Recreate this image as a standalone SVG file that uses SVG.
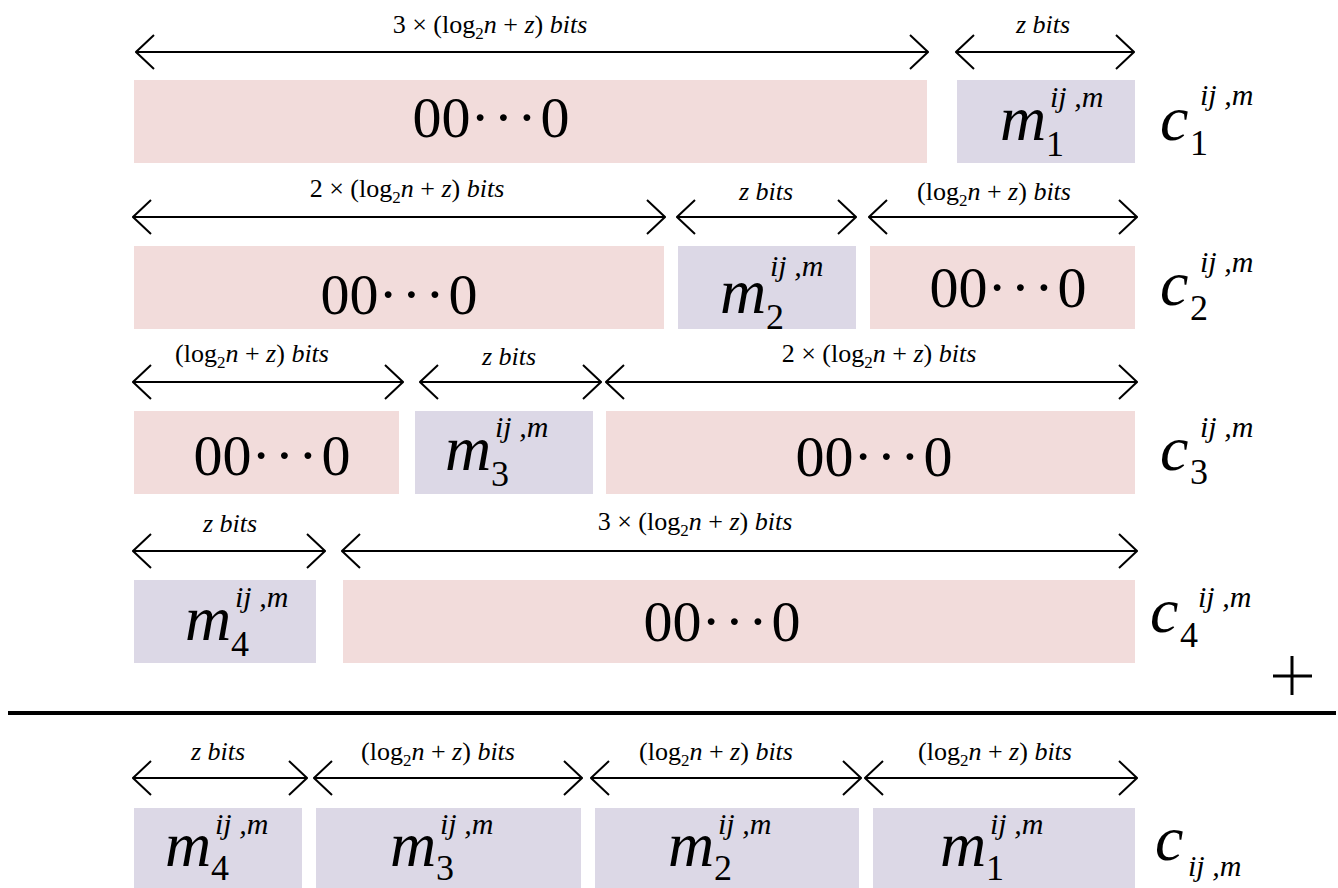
<svg xmlns="http://www.w3.org/2000/svg" width="1338" height="888" viewBox="0 0 1338 888" font-family="'Liberation Serif','DejaVu Serif',serif">
<style>
text{font-family:'Liberation Serif','DejaVu Serif',serif;fill:#000}
.pk{fill:#f2dcdb}
.pu{fill:#dcd8e6}
.lbl{font-size:26px;text-anchor:middle}
.i{font-style:italic}
.s{font-size:17px}
.big{font-size:58px;text-anchor:middle}
.dt{letter-spacing:4px}
.m{font-size:64px;font-style:italic}
.sub{font-size:36px}
.sup{font-size:30px;font-style:italic}
.arr{stroke:#000;stroke-width:2;fill:none;marker-start:url(#ah);marker-end:url(#ah)}
</style>
<defs>
<marker id="ah" viewBox="0 0 20 36" refX="19" refY="18" markerWidth="20" markerHeight="36" markerUnits="userSpaceOnUse" orient="auto-start-reverse">
<path d="M1,1 L19,18 L1,35" fill="none" stroke="#000" stroke-width="2"/>
</marker>
</defs>
<rect width="1338" height="888" fill="#fff"/>

<g id="connectors">
<line class="arr" x1="136" y1="52" x2="928" y2="52"/>
<line class="arr" x1="956" y1="52" x2="1134" y2="52"/>
<line class="arr" x1="133" y1="217" x2="665" y2="217"/>
<line class="arr" x1="677" y1="217" x2="856" y2="217"/>
<line class="arr" x1="869" y1="217" x2="1137" y2="217"/>
<line class="arr" x1="133" y1="382" x2="403" y2="382"/>
<line class="arr" x1="420" y1="382" x2="601" y2="382"/>
<line class="arr" x1="606" y1="382" x2="1137" y2="382"/>
<line class="arr" x1="133" y1="551" x2="325" y2="551"/>
<line class="arr" x1="342" y1="551" x2="1137" y2="551"/>
<line class="arr" x1="133" y1="778" x2="307" y2="778"/>
<line class="arr" x1="314" y1="778" x2="582" y2="778"/>
<line class="arr" x1="591" y1="778" x2="861" y2="778"/>
<line class="arr" x1="865" y1="778" x2="1137" y2="778"/>
</g>

<g id="labels">
<text class="lbl" x="490" y="33">3 × (log<tspan class="s" dy="6">2</tspan><tspan class="i" dy="-6">n</tspan> + <tspan class="i">z</tspan>) <tspan class="i">bits</tspan></text>
<text class="lbl i" x="1043" y="33">z bits</text>
<text class="lbl" x="407" y="197">2 × (log<tspan class="s" dy="6">2</tspan><tspan class="i" dy="-6">n</tspan> + <tspan class="i">z</tspan>) <tspan class="i">bits</tspan></text>
<text class="lbl i" x="766" y="200">z bits</text>
<text class="lbl" x="994" y="200">(log<tspan class="s" dy="6">2</tspan><tspan class="i" dy="-6">n</tspan> + <tspan class="i">z</tspan>) <tspan class="i">bits</tspan></text>
<text class="lbl" x="252" y="362">(log<tspan class="s" dy="6">2</tspan><tspan class="i" dy="-6">n</tspan> + <tspan class="i">z</tspan>) <tspan class="i">bits</tspan></text>
<text class="lbl i" x="509" y="365">z bits</text>
<text class="lbl" x="879" y="362">2 × (log<tspan class="s" dy="6">2</tspan><tspan class="i" dy="-6">n</tspan> + <tspan class="i">z</tspan>) <tspan class="i">bits</tspan></text>
<text class="lbl i" x="230" y="532">z bits</text>
<text class="lbl" x="695" y="530">3 × (log<tspan class="s" dy="6">2</tspan><tspan class="i" dy="-6">n</tspan> + <tspan class="i">z</tspan>) <tspan class="i">bits</tspan></text>
<text class="lbl i" x="218" y="760">z bits</text>
<text class="lbl" x="438" y="760">(log<tspan class="s" dy="6">2</tspan><tspan class="i" dy="-6">n</tspan> + <tspan class="i">z</tspan>) <tspan class="i">bits</tspan></text>
<text class="lbl" x="716" y="760">(log<tspan class="s" dy="6">2</tspan><tspan class="i" dy="-6">n</tspan> + <tspan class="i">z</tspan>) <tspan class="i">bits</tspan></text>
<text class="lbl" x="995" y="760">(log<tspan class="s" dy="6">2</tspan><tspan class="i" dy="-6">n</tspan> + <tspan class="i">z</tspan>) <tspan class="i">bits</tspan></text>
</g>

<g id="row1-zero"><rect class="pk" x="134" y="80" width="793" height="83"/><text class="big" x="491" y="137">00<tspan class="dt">···</tspan>0</text></g>
<g id="row1-m1"><rect class="pu" x="957" y="80" width="178" height="83"/>
<text class="m" x="1000" y="140">m</text><text class="sub" x="1046" y="156">1</text><text class="sup" x="1050" y="107">ij ,m</text></g>
<g id="c1"><text class="m" x="1160" y="140">c</text><text class="sub" x="1190" y="155">1</text><text class="sup" x="1200" y="105">ij ,m</text></g>

<g id="row2-zero-a"><rect class="pk" x="134" y="246" width="530" height="83"/><text class="big" x="399" y="314">00<tspan class="dt">···</tspan>0</text></g>
<g id="row2-m2"><rect class="pu" x="678" y="246" width="178" height="83"/>
<text class="m" x="720" y="313">m</text><text class="sub" x="766" y="329">2</text><text class="sup" x="770" y="276">ij ,m</text></g>
<g id="row2-zero-b"><rect class="pk" x="870" y="246" width="265" height="83"/><text class="big" x="1008" y="307">00<tspan class="dt">···</tspan>0</text></g>
<g id="c2"><text class="m" x="1160" y="305">c</text><text class="sub" x="1190" y="320">2</text><text class="sup" x="1200" y="272">ij ,m</text></g>

<g id="row3-zero-a"><rect class="pk" x="134" y="411" width="265" height="83"/><text class="big" x="272" y="475">00<tspan class="dt">···</tspan>0</text></g>
<g id="row3-m3"><rect class="pu" x="415" y="411" width="178" height="83"/>
<text class="m" x="445" y="470">m</text><text class="sub" x="491" y="486">3</text><text class="sup" x="495" y="437">ij ,m</text></g>
<g id="row3-zero-b"><rect class="pk" x="606" y="411" width="529" height="83"/><text class="big" x="874" y="476">00<tspan class="dt">···</tspan>0</text></g>
<g id="c3"><text class="m" x="1160" y="470">c</text><text class="sub" x="1190" y="484">3</text><text class="sup" x="1200" y="437">ij ,m</text></g>

<g id="row4-m4"><rect class="pu" x="134" y="580" width="182" height="83"/>
<text class="m" x="185" y="640">m</text><text class="sub" x="231" y="656">4</text><text class="sup" x="235" y="607">ij ,m</text></g>
<g id="row4-zero"><rect class="pk" x="343" y="580" width="792" height="83"/><text class="big" x="722" y="641">00<tspan class="dt">···</tspan>0</text></g>
<g id="c4"><text class="m" x="1150" y="632">c</text><text class="sub" x="1180" y="647">4</text><text class="sup" x="1198" y="607">ij ,m</text></g>

<g id="plus"><line x1="1273" y1="676" x2="1312" y2="676" stroke="#000" stroke-width="3"/><line x1="1292" y1="656" x2="1292" y2="695" stroke="#000" stroke-width="3"/></g>
<g id="sumline"><line x1="8" y1="713" x2="1336" y2="713" stroke="#000" stroke-width="4"/></g>

<g id="res-m4"><rect class="pu" x="134" y="808" width="168" height="80"/>
<text class="m" x="165" y="866">m</text><text class="sub" x="211" y="880">4</text><text class="sup" x="215" y="834">ij ,m</text></g>
<g id="res-m3"><rect class="pu" x="316" y="808" width="265" height="80"/>
<text class="m" x="390" y="866">m</text><text class="sub" x="436" y="880">3</text><text class="sup" x="440" y="834">ij ,m</text></g>
<g id="res-m2"><rect class="pu" x="595" y="808" width="264" height="80"/>
<text class="m" x="668" y="866">m</text><text class="sub" x="714" y="880">2</text><text class="sup" x="718" y="834">ij ,m</text></g>
<g id="res-m1"><rect class="pu" x="873" y="808" width="262" height="80"/>
<text class="m" x="940" y="866">m</text><text class="sub" x="986" y="880">1</text><text class="sup" x="990" y="834">ij ,m</text></g>
<g id="c-ijm"><text class="m" x="1155" y="860">c</text><text class="sup" x="1188" y="876">ij ,m</text></g>
</svg>
